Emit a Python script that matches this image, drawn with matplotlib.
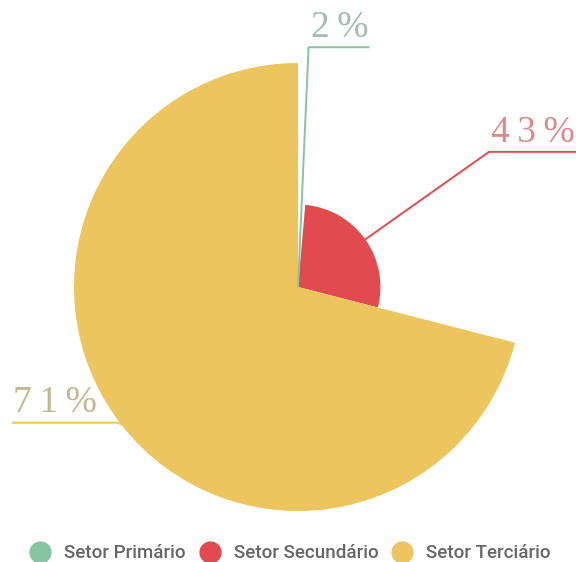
import numpy as np
import matplotlib.pyplot as plt
from matplotlib.patches import Wedge
from matplotlib.lines import Line2D

# Setores da economia: rotulo, fatia angular (% do circulo), raio relativo
setores = ['Setor Primário', 'Setor Secundário', 'Setor Terciário']
rotulos = ['2%', '43%', '71%']
fatias = [1.4, 27.6, 71.0]
raios = [0.0, 0.368, 1.0]
cores = ['#86c4a2', '#e14b50', '#ecc55f']
cores_txt = ['#a3bcb1', '#dc8a8c', '#c2b78f']

fig = plt.figure(figsize=(5.76, 5.62), dpi=100)
ax = fig.add_axes([0, 0, 1, 1])
ax.set_xlim(0, 576)
ax.set_ylim(0, 562)
ax.set_aspect('equal')
ax.axis('off')

cx, cy = 298, 275
R = 224

ini = 0.0
for i in range(3):
    a1 = ini
    a2 = ini + fatias[i] * 3.6
    ini = a2
    r = max(raios[i] * R, 0.5)
    ax.add_patch(Wedge((cx, cy), r, 90 - a2, 90 - a1, color=cores[i], lw=0))

    # linha guia + rotulo (espacado)
    txt = '\u2009'.join(rotulos[i])
    am = np.radians((a1 + a2) / 2)
    dx, dy = np.sin(am), np.cos(am)
    p0 = (cx + dx * r, cy + dy * r)
    if i == 2:
        p1 = (cx + dx * (R + 4), cy + dy * (R + 4))
        x2 = 13
        ax.plot([p0[0], p1[0], x2], [p0[1], p1[1] + 4, p1[1] + 4], color=cores[i], lw=1.4)
        ax.text(x2, p1[1] + 7, txt, color=cores_txt[i], fontsize=27,
                family='Liberation Serif', ha='left', va='bottom')
    else:
        rl = 240 if i == 0 else 234
        p1 = (cx + dx * rl, cy + dy * rl)
        x2 = p1[0] + (60 if i == 0 else 90)
        ax.plot([p0[0], p1[0], x2], [p0[1], p1[1], p1[1]], color=cores[i], lw=1.4)
        ax.text(p1[0] + 2, p1[1] + 2, txt, color=cores_txt[i], fontsize=27,
                family='Liberation Serif', ha='left', va='bottom')

handles = [Line2D([], [], marker='o', ls='none', markersize=15, markerfacecolor=c,
                  markeredgecolor=c) for c in cores]
fig.legend(handles, setores, loc='lower center', ncol=3, frameon=False,
           bbox_to_anchor=(0.505, -0.024), borderpad=0.2,
           prop={'family': 'Roboto', 'size': 13.5, 'weight': 'medium'},
           labelcolor='#666666', handlelength=1.0, handletextpad=0.8,
           columnspacing=0.75)

plt.savefig('out.png')
plt.close()
